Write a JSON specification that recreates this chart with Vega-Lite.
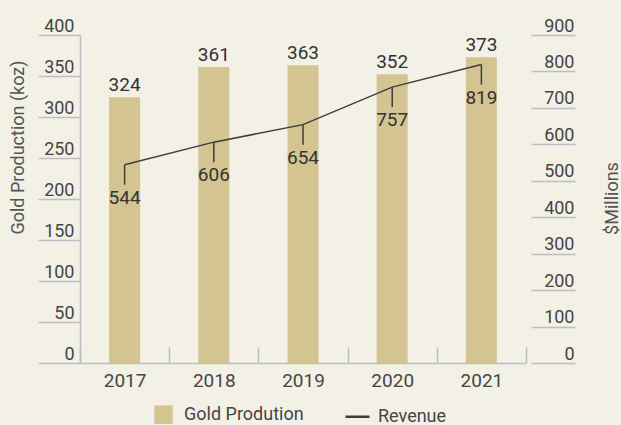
{
  "$schema": "https://vega.github.io/schema/vega-lite/v6.json",
  "width": 446,
  "height": 328,
  "autosize": {"type": "none"},
  "padding": {"left": 80, "top": 35, "right": 95, "bottom": 62},
  "background": "#f3f0e5",
  "config": {
    "view": {"stroke": null},
    "font": "Roboto",
    "axis": {"labelColor": "#454545", "titleColor": "#555555", "labelFont": "Roboto", "titleFont": "Roboto", "titleFontWeight": "normal"},
    "text": {"font": "Roboto", "fontSize": 19, "color": "#333333"}
  },
  "data": {
    "values": [
      {"year": "2017", "gold": 324, "revenue": 544},
      {"year": "2018", "gold": 361, "revenue": 606},
      {"year": "2019", "gold": 363, "revenue": 654},
      {"year": "2020", "gold": 352, "revenue": 757},
      {"year": "2021", "gold": 373, "revenue": 819}
    ]
  },
  "encoding": {
    "x": {
      "field": "year", "type": "nominal", "sort": null,
      "scale": {"paddingInner": 0, "paddingOuter": 0},
      "axis": {
        "title": null, "labelAngle": 0, "labelFontSize": 19,
        "domain": true, "domainColor": "#b9bfc5", "domainWidth": 1.5,
        "ticks": true, "tickBand": "extent", "tickSize": -16, "tickColor": "#b9bfc5", "tickWidth": 1.5,
        "labelPadding": 24
      }
    }
  },
  "layer": [
    {
      "encoding": {
        "y": {
          "field": "gold", "type": "quantitative",
          "scale": {"domain": [0, 400], "nice": false},
          "axis": {
            "orient": "left", "values": [0, 50, 100, 150, 200, 250, 300, 350, 400],
            "title": "Gold Production (koz)", "titleFontSize": 18, "titleAngle": 270,
            "titleX": -62, "titleY": 112, "titleAlign": "center", "titleBaseline": "middle",
            "domain": true, "domainColor": "#b9bfc5", "domainWidth": 1.5,
            "tickSize": 42, "tickColor": "#b9bfc5", "tickWidth": 1.5,
            "labelPadding": -36, "labelAlign": "right", "labelBaseline": "alphabetic", "labelOffset": -4,
            "labelFontSize": 18, "labelOverlap": false, "grid": false
          }
        }
      },
      "layer": [
        {
          "mark": {"type": "bar", "size": 31},
          "encoding": {
            "color": {
              "datum": "Gold Prodution",
              "scale": {"domain": ["Gold Prodution", "Revenue"], "range": ["#d3c492", "#3d3d3d"]},
              "legend": {
                "title": null, "orient": "none", "legendX": 74, "legendY": 370, "direction": "horizontal",
                "labelFontSize": 18, "labelColor": "#454545", "labelFont": "Roboto",
                "labelOffset": 11, "columnPadding": 36, "symbolSize": 256,
                "encode": {
                  "symbols": {
                    "update": {
                      "shape": {"signal": "datum.value === 'Revenue' ? 'stroke' : 'square'"},
                      "size": {"signal": "datum.value === 'Revenue' ? 576 : 256"},
                      "fill": {"signal": "datum.value === 'Revenue' ? 'transparent' : '#d3c492'"},
                      "stroke": {"signal": "datum.value === 'Revenue' ? '#3d3d3d' : 'transparent'"},
                      "strokeWidth": {"value": 2.5},
                      "opacity": {"value": 1}
                    }
                  }
                }
              }
            }
          }
        },
        {
          "mark": {"type": "text", "baseline": "alphabetic", "dy": -6, "fontSize": 19, "color": "#333333"},
          "encoding": {"text": {"field": "gold", "type": "quantitative"}}
        }
      ]
    },
    {
      "encoding": {
        "y": {
          "field": "revenue", "type": "quantitative",
          "scale": {"domain": [0, 900], "nice": false},
          "axis": {
            "orient": "right", "values": [0, 100, 200, 300, 400, 500, 600, 700, 800, 900],
            "title": "$Millions", "titleFontSize": 18, "titleAngle": 270,
            "titleX": 81, "titleY": 163, "titleAlign": "center", "titleBaseline": "middle",
            "domain": false, "offset": 5,
            "tickSize": 44, "tickColor": "#b9bfc5", "tickWidth": 1.5,
            "labelPadding": -1, "labelAlign": "right", "labelBaseline": "alphabetic", "labelOffset": -4,
            "labelFontSize": 18, "labelOverlap": false, "grid": false
          }
        }
      },
      "layer": [
        {
          "mark": {"type": "line", "strokeWidth": 1.5},
          "encoding": {"color": {"datum": "Revenue"}}
        },
        {
          "mark": {"type": "rule", "y2Offset": 20, "strokeWidth": 1.5, "color": "#3d3d3d"},
          "encoding": {"y2": {"field": "revenue"}}
        },
        {
          "mark": {"type": "text", "baseline": "top", "dy": 24, "fontSize": 19, "color": "#333333"},
          "encoding": {"text": {"field": "revenue", "type": "quantitative"}}
        }
      ]
    }
  ],
  "resolve": {"scale": {"y": "independent", "color": "shared"}}
}
